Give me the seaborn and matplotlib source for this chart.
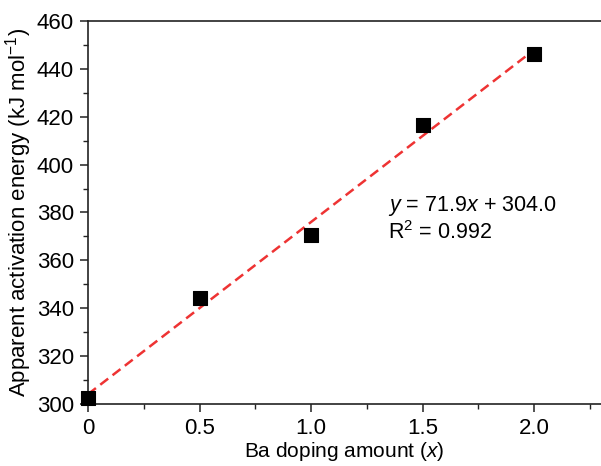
import matplotlib
matplotlib.use("Agg")
import matplotlib.pyplot as plt
import seaborn as sns
import pandas as pd
from matplotlib.ticker import MultipleLocator

ba_doping = [0.0, 0.5, 1.0, 1.5, 2.0]
activation_energy = [302.5, 344.3, 370.6, 416.5, 446.2]
equation_text = "$y$ = 71.9$x$ + 304.0"
r2_text = "R$^2$ = 0.992"

df = pd.DataFrame({"x": ba_doping, "E": activation_energy})

sns.set_theme(style="ticks")
plt.rcParams["font.family"] = ["Liberation Sans", "DejaVu Sans"]
plt.rcParams["mathtext.fontset"] = "custom"
plt.rcParams["mathtext.rm"] = "Liberation Sans"
plt.rcParams["mathtext.it"] = "Liberation Sans:italic"
plt.rcParams["text.color"] = "black"
plt.rcParams["axes.labelcolor"] = "black"

fig = plt.figure(figsize=(6.01, 4.66), dpi=100)
ax = fig.add_axes([88/601, 62/466, 1 - 88/601, 383/466])

sns.regplot(data=df, x="x", y="E", ax=ax, ci=None, truncate=True,
            scatter=False,
            line_kws=dict(color="#ee3333", lw=1.8, ls=(0, (4, 2.2))))
sns.scatterplot(data=df, x="x", y="E", ax=ax, marker="s", s=95,
                color="black", edgecolor="black", zorder=5, clip_on=False)

ax.set_xlim(0, 2.3)
ax.set_ylim(300, 460)
ax.xaxis.set_major_locator(MultipleLocator(0.5))
ax.xaxis.set_minor_locator(MultipleLocator(0.25))
ax.yaxis.set_major_locator(MultipleLocator(20))
ax.yaxis.set_minor_locator(MultipleLocator(10))
ax.set_xticks([0, 0.5, 1.0, 1.5, 2.0])
ax.set_xticklabels(["0", "0.5", "1.0", "1.5", "2.0"])

for s in ["left", "bottom", "top"]:
    ax.spines[s].set_linewidth(1.2)
    ax.spines[s].set_color("#222222")
ax.spines["right"].set_visible(False)

ax.tick_params(axis="both", which="major", direction="out", length=6, width=1.1,
               labelsize=16, colors="#222222", labelcolor="black", top=False, right=False,
               pad=4)
ax.tick_params(axis="both", which="minor", direction="out", length=3.5, width=1.0,
               colors="#222222", top=False, right=False)

ax.set_xlabel("Ba doping amount ($x$)", fontsize=15, labelpad=1)
ax.set_ylabel("Apparent activation energy (kJ mol$^{-1}$)", fontsize=16, labelpad=2)

ax.text(1.345, 382.7, equation_text, fontsize=15.5, va="center", ha="left")
ax.text(1.345, 371.8, r2_text, fontsize=15.5, va="center", ha="left")

fig.savefig("out.png", dpi=100)
